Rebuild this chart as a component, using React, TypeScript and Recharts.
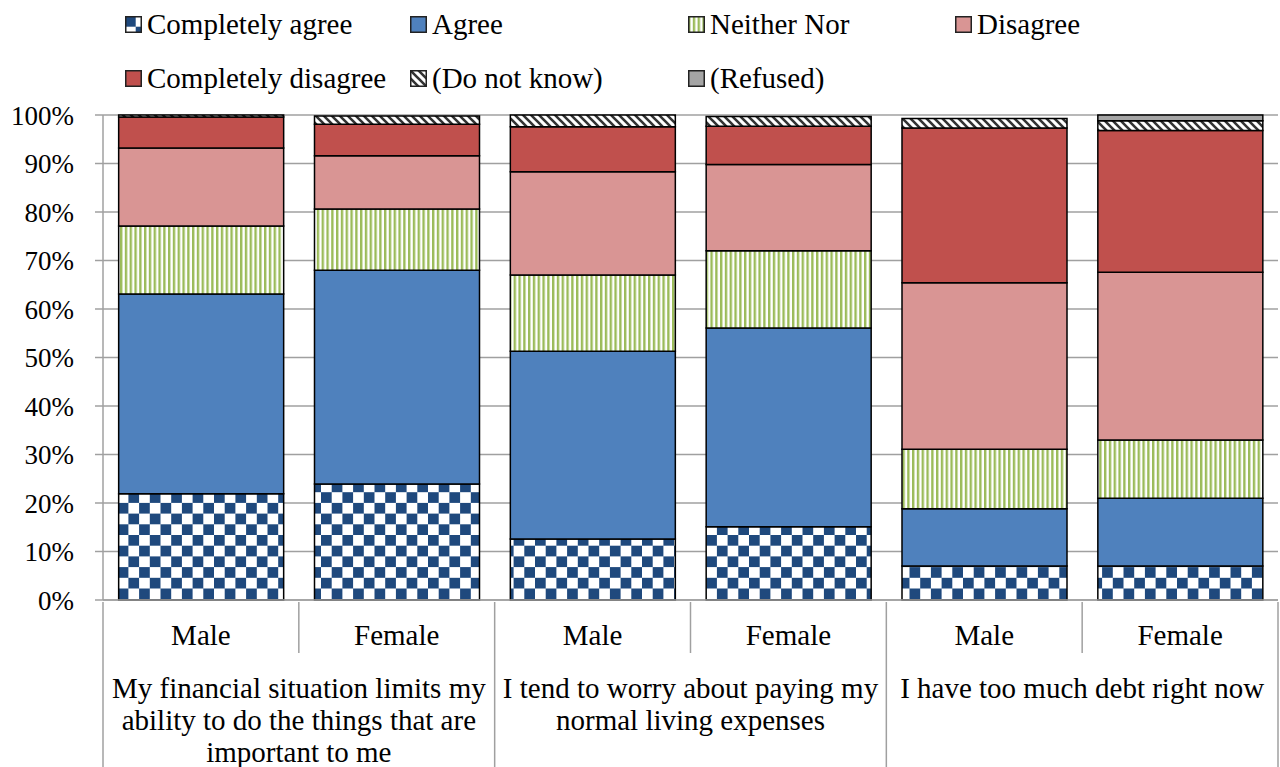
import { BarChart, Bar, XAxis, YAxis, CartesianGrid } from "recharts";

// survey statements (outer axis level) and respondents (inner level)
const groups = [
  "My financial situation limits my ability to do the things that are important to me",
  "I tend to worry about paying my normal living expenses",
  "I have too much debt right now",
];
const genders = ["Male", "Female"];

// % of answers, one value per bar (M, F, M, F, M, F)
const completelyAgree = [21.9, 23.9, 12.6, 15.1, 7.0, 7.0];
const agree = [41.2, 44.1, 38.7, 41.0, 11.8, 14.0];
const neitherNor = [14.0, 12.6, 15.7, 15.9, 12.3, 12.0];
const disagree = [16.1, 11.0, 21.3, 17.8, 34.3, 34.6];
const completelyDisagree = [6.4, 6.5, 9.3, 7.9, 31.9, 29.2];
const doNotKnow = [0.4, 1.7, 2.4, 2.0, 2.0, 2.0];
const refused = [0, 0, 0, 0, 0, 1.2];

const yTicks = [0, 10, 20, 30, 40, 50, 60, 70, 80, 90, 100];

const data = completelyAgree.map((_, i) => ({
  key: String(i),
  group: groups[Math.floor(i / 2)],
  ca: completelyAgree[i],
  ag: agree[i],
  nn: neitherNor[i],
  di: disagree[i],
  cd: completelyDisagree[i],
  dk: doNotKnow[i],
  rf: refused[i],
}));

const series = [
  { key: "ca", name: "Completely agree", fill: "url(#pCheck)" },
  { key: "ag", name: "Agree", fill: "#4f81bd" },
  { key: "nn", name: "Neither Nor", fill: "url(#pStripe)" },
  { key: "di", name: "Disagree", fill: "#d99594" },
  { key: "cd", name: "Completely disagree", fill: "#c0504d" },
  { key: "dk", name: "(Do not know)", fill: "url(#pDiag)" },
  { key: "rf", name: "(Refused)", fill: "#a5a5a5" },
];

const FONT = '"Liberation Serif", "Times New Roman", serif';
const FS = 29;
const FS_Y = 27;
const GRID = "#a0a0a0";
const W = 1280;
const H = 767;
const Y_W = 103;
const RIGHT = 2;
const G_AXIS_H = 51;
const Q_AXIS_H = 116;
const PLOT_W = W - Y_W - RIGHT;
const WRAP_W = 390;
const LINE_H = 32;

// legend slots (x of marker, row center)
const legendPos = [
  [125, 24], [410, 24], [688, 24], [955, 24],
  [125, 78], [410, 78], [688, 78],
];

let ctx: CanvasRenderingContext2D | null = null;
function wrap(text: string, maxW: number): string[] {
  if (!ctx) ctx = document.createElement("canvas").getContext("2d");
  ctx!.font = `${FS}px "Liberation Serif"`;
  const words = text.split(" ");
  const lines: string[] = [];
  let cur = "";
  for (const w of words) {
    const next = cur ? cur + " " + w : w;
    if (cur && ctx!.measureText(next).width > maxW) {
      lines.push(cur);
      cur = w;
    } else {
      cur = next;
    }
  }
  if (cur) lines.push(cur);
  return lines;
}

function GenderTick(props: any) {
  const { x, y, payload } = props;
  const i = Number(payload.value);
  const bw = PLOT_W / data.length;
  return (
    <g>
      <text x={x} y={y + 43} textAnchor="middle" fontFamily={FONT} fontSize={FS} fill="#000">
        {genders[i % 2]}
      </text>
      {i % 2 === 0 && (
        <line x1={x + bw / 2} x2={x + bw / 2} y1={y} y2={y + G_AXIS_H} stroke={GRID} strokeWidth={1.5} />
      )}
    </g>
  );
}

function GroupTick(props: any) {
  const { x, y, index, payload } = props;
  const hw = PLOT_W / groups.length / 2;
  const lines = wrap(String(payload.value), WRAP_W);
  return (
    <g>
      <text textAnchor="middle" fontFamily={FONT} fontSize={FS} fill="#000">
        {lines.map((l, k) => (
          <tspan key={k} x={x} y={y + 45 + k * LINE_H}>
            {l}
          </tspan>
        ))}
      </text>
      <line x1={x - hw} x2={x - hw} y1={y - G_AXIS_H} y2={H} stroke={GRID} strokeWidth={1.5} />
      {index === groups.length - 1 && (
        <line x1={x + hw} x2={x + hw} y1={y - G_AXIS_H} y2={H} stroke={GRID} strokeWidth={1.5} />
      )}
    </g>
  );
}

function LegendBox() {
  return (
    <div style={{ position: "absolute", left: 0, top: 0, width: W, height: 100 }}>
      {series.map((s, i) => (
        <div
          key={s.key}
          style={{
            position: "absolute",
            left: legendPos[i][0],
            top: legendPos[i][1] - 18,
            height: 36,
            display: "flex",
            alignItems: "center",
            fontFamily: FONT,
            fontSize: FS,
            color: "#000",
            whiteSpace: "nowrap",
          }}
        >
          <svg width={17} height={17} style={{ marginRight: 5 }}>
            <rect x={0.75} y={0.75} width={15.5} height={15.5} fill={s.fill} stroke="#222" strokeWidth={1.5} />
          </svg>
          {s.name}
        </div>
      ))}
    </div>
  );
}

export default function App() {
  return (
    <div style={{ position: "absolute", left: 0, top: 0, width: W, height: H, background: "#fff" }}>
      <BarChart
        width={W}
        height={H}
        data={data}
        margin={{ top: 115, right: RIGHT, bottom: 0, left: 0 }}
        barCategoryGap="8%"
      >
        <defs>
          <pattern id="pCheck" patternUnits="userSpaceOnUse" width={21.4} height={21.4}>
            <rect width={21.4} height={21.4} fill="#fff" />
            <rect x={0} y={0} width={10.7} height={10.7} fill="#1f497d" />
            <rect x={10.7} y={10.7} width={10.7} height={10.7} fill="#1f497d" />
          </pattern>
          <pattern id="pStripe" patternUnits="userSpaceOnUse" width={4.8} height={10}>
            <rect width={4.8} height={10} fill="#fff" />
            <rect width={2.4} height={10} fill="#9bbb59" />
          </pattern>
          <pattern id="pDiag" patternUnits="userSpaceOnUse" width={8} height={8}>
            <rect width={8} height={8} fill="#fff" />
            <path d="M-2,-2 L10,10 M-2,6 L2,10 M6,-2 L10,2" stroke="#333" strokeWidth={2.6} />
          </pattern>
        </defs>
        <CartesianGrid vertical={false} stroke={GRID} strokeWidth={1.5} />
        <YAxis
          width={Y_W}
          domain={[0, 100]}
          ticks={yTicks}
          tickFormatter={(v: number) => `${v}%`}
          axisLine={{ stroke: GRID, strokeWidth: 1.5 }}
          tickLine={{ stroke: GRID, strokeWidth: 1.5 }}
          tickSize={8}
          tickMargin={21}
          tick={{ fill: "#000", fontSize: FS_Y, fontFamily: FONT }}
          interval={0}
        />
        <XAxis
          xAxisId="g"
          dataKey="key"
          height={G_AXIS_H}
          axisLine={{ stroke: GRID, strokeWidth: 1.5 }}
          tickLine={false}
          tickSize={0}
          tick={<GenderTick />}
          interval={0}
        />
        <XAxis
          xAxisId="q"
          dataKey="group"
          allowDuplicatedCategory={false}
          height={Q_AXIS_H}
          axisLine={false}
          tickLine={false}
          tickSize={0}
          tick={<GroupTick />}
          interval={0}
        />
        {series.map((s) => (
          <Bar
            key={s.key}
            xAxisId="g"
            dataKey={s.key}
            name={s.name}
            stackId="a"
            fill={s.fill}
            stroke="#000"
            strokeWidth={1.5}
            isAnimationActive={false}
          />
        ))}
      </BarChart>
      <LegendBox />
    </div>
  );
}
